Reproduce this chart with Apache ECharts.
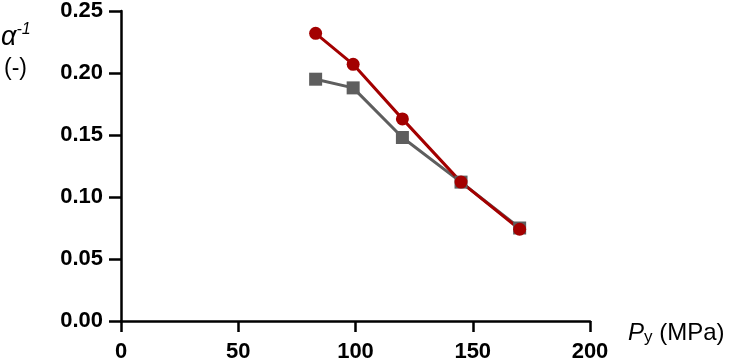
<!DOCTYPE html>
<html><head><meta charset="utf-8">
<script src="https://cdn.jsdelivr.net/npm/echarts@6/dist/echarts.min.js"></script>
<style>html,body{margin:0;padding:0;background:#fff}#c{width:731px;height:363px}</style>
</head><body><div id="c"></div>
<script>
const xValues = [83, 99, 120, 145, 170];
const redValues = [0.232, 0.207, 0.163, 0.112, 0.074];
const grayValues = [0.195, 0.188, 0.148, 0.112, 0.075];
const xTicks = [0, 50, 100, 150, 200];
const yTicks = [0, 0.05, 0.10, 0.15, 0.20, 0.25];

const chart = echarts.init(document.getElementById('c'), null, {renderer: 'canvas'});
const font = 'Liberation Sans, Arial, sans-serif';
chart.setOption({
  animation: false,
  grid: {left: 121, right: 141, top: 10, bottom: 41},
  xAxis: {
    type: 'value', min: xTicks[0], max: xTicks[xTicks.length - 1], interval: 50,
    axisLine: {lineStyle: {color: '#000', width: 2.5}},
    axisTick: {inside: false, length: 11, lineStyle: {color: '#000', width: 2.5}},
    axisLabel: {color: '#000', fontWeight: 'bold', fontSize: 22, fontFamily: font, margin: 20},
    splitLine: {show: false}
  },
  yAxis: {
    type: 'value', min: yTicks[0], max: yTicks[yTicks.length - 1], interval: 0.05,
    axisLine: {show: true, lineStyle: {color: '#000', width: 2.5}},
    axisTick: {show: true, length: 12, lineStyle: {color: '#000', width: 2.5}},
    axisLabel: {color: '#000', fontWeight: 'bold', fontSize: 22, fontFamily: font, margin: 18,
      formatter: v => v.toFixed(2)},
    splitLine: {show: false}
  },
  graphic: [
    {type: 'text', left: 1, top: 22, style: {
      text: '{a|α}{s|-1}', fontFamily: font,
      rich: {a: {fontSize: 27, fontStyle: 'italic', fill: '#000', fontFamily: font},
             s: {fontSize: 16, fontStyle: 'italic', fill: '#000', fontFamily: font, verticalAlign: 'top', padding: [0,0,14,0]}}
    }},
    {type: 'text', left: 4, top: 57, style: {text: '(-)', fontSize: 23, fill: '#000', fontFamily: font}},
    {type: 'text', left: 628, top: 321, style: {
      text: '{p|P}{y|y}{m| (MPa)}', fontFamily: font,
      rich: {p: {fontSize: 24, fontStyle: 'italic', fill: '#000', fontFamily: font},
             y: {fontSize: 17, fill: '#000', fontFamily: font, verticalAlign: 'bottom', padding: [8,0,0,0]},
             m: {fontSize: 24, fill: '#000', fontFamily: font}}
    }}
  ],
  series: [
    {type: 'line', data: xValues.map((x, i) => [x, grayValues[i]]),
     symbol: 'rect', symbolSize: 13,
     itemStyle: {color: '#5e5e5e'}, lineStyle: {color: '#5e5e5e', width: 3}},
    {type: 'line', data: xValues.map((x, i) => [x, redValues[i]]),
     symbol: 'circle', symbolSize: 13,
     itemStyle: {color: '#a30000'}, lineStyle: {color: '#a30000', width: 3}}
  ]
});
</script></body></html>
